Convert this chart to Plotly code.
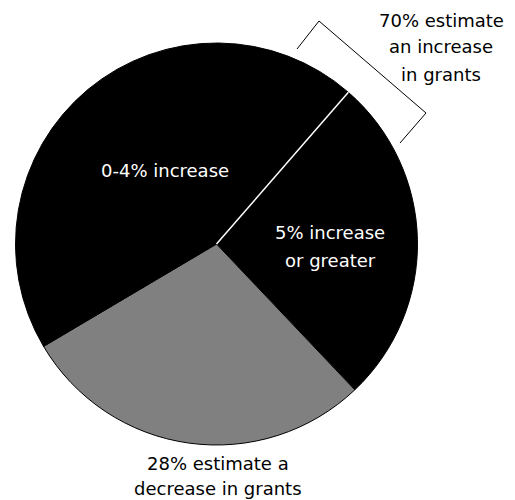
import math
import plotly.graph_objects as go

labels = ["5% increase or greater", "Decrease in grants", "0-4% increase"]
values = [26, 28, 44]
colors = ["#000000", "#808080", "#000000"]
rotation = 41

W, H = 515, 500
cx, cy, r = 216.5, 244.0, 201.0  # pixel centre and radius of pie

fig = go.Figure(go.Pie(
    labels=labels, values=values, sort=False, direction="clockwise",
    rotation=rotation, textinfo="none", hoverinfo="label+value",
    marker=dict(colors=colors, line=dict(color="#000000", width=1)),
    domain=dict(x=[(cx - r) / W, (cx + r) / W], y=[1 - (cy + r) / H, 1 - (cy - r) / H]),
    showlegend=False,
))

# white separator at the start of the first slice (angle derived from data)
ang = math.radians(rotation)
x1 = cx + r * math.sin(ang)
y1 = cy - r * math.cos(ang)
shapes = [dict(type="line", xref="paper", yref="paper",
               x0=cx / W, y0=1 - cy / H, x1=x1 / W, y1=1 - y1 / H,
               line=dict(color="white", width=1.5))]

# bracket
br = [(297, 49), (319, 21), (426, 113), (400, 143)]
for (a, b), (c, d) in zip(br[:-1], br[1:]):
    shapes.append(dict(type="line", xref="paper", yref="paper",
                       x0=a / W, y0=1 - b / H, x1=c / W, y1=1 - d / H,
                       line=dict(color="black", width=1)))

font = "'DejaVu Sans', sans-serif"
def ann(x, y, text, color):
    return dict(x=x / W, y=1 - y / H, xref="paper", yref="paper", text=text,
                showarrow=False, font=dict(family=font, size=18, color=color),
                xanchor="center", yanchor="middle", align="center")

annotations = [
    ann(165, 170, "0-4% increase", "white"),
    ann(330, 233, "5% increase", "white"),
    ann(330, 260, "or greater", "white"),
    ann(441, 20, "70% estimate", "black"),
    ann(441, 47, "an increase", "black"),
    ann(441, 74, "in grants", "black"),
    ann(218, 463, "28% estimate a", "black"),
    ann(218, 488, "decrease in grants", "black"),
]

fig.update_layout(width=W, height=H, margin=dict(l=0, r=0, t=0, b=0),
                  paper_bgcolor="white", plot_bgcolor="white",
                  shapes=shapes, annotations=annotations)
fig.write_html("out.html")
